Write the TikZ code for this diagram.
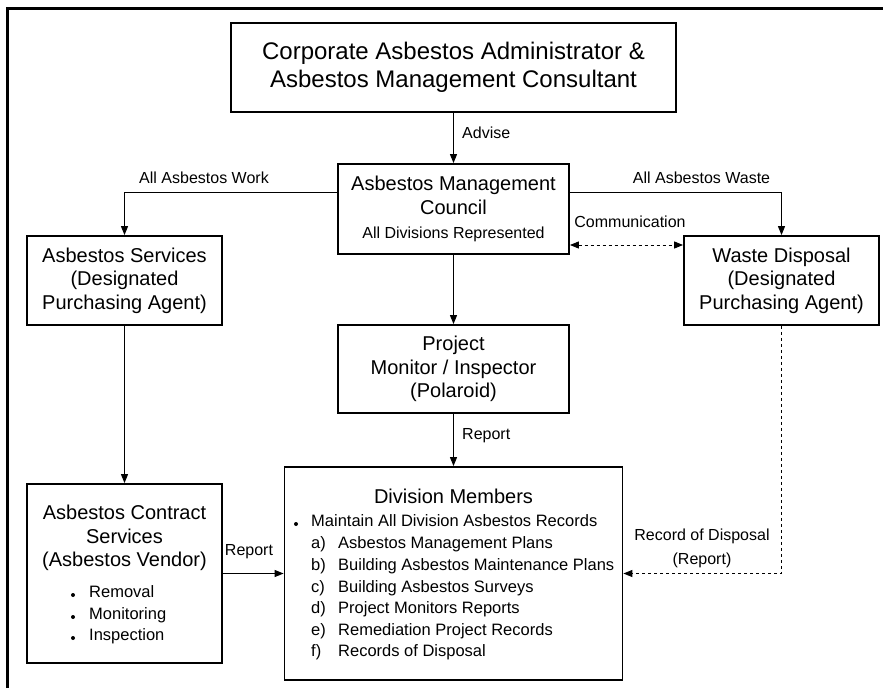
\documentclass[tikz,border=0pt]{standalone}
\usepackage{fontspec}
\setmainfont{Liberation Sans}
\usetikzlibrary{arrows.meta}

\tikzset{
  box/.style={draw, line width=1.8pt, align=center, inner sep=0pt,
    font=\fontsize{20}{23.5}\selectfont},
  lbl/.style={inner sep=0pt, font=\fontsize{16}{24}\selectfont},
  item/.style={inner sep=0pt, anchor=mid west, font=\fontsize{16.5}{20}\selectfont},
  arr/.style={line width=1pt, -{Triangle[length=9pt,width=7pt]}},
  dashline/.style={line width=1pt, dash pattern=on 3pt off 3pt}
}

\begin{document}
\begin{tikzpicture}[x=1pt,y=-1pt]
	% page and outer frame (open on the right and at the bottom)
	\fill[white] (0,0) rectangle (883,688);
	\useasboundingbox (0,0) rectangle (883,688);
	\draw[line width=3pt] (7,688) -- (7,8) -- (883,8);

	% top box: administrator and consultant
	\node[box, minimum width=445pt, minimum height=89pt, font=\fontsize{24}{28}\selectfont]
		(admin) at (453.5,67.5) {Corporate Asbestos Administrator \&\\Asbestos Management Consultant};
	% council in the middle
	\node[box, minimum width=231pt, minimum height=90pt, font=\fontsize{20}{24}\selectfont]
		(council) at (453.5,209) {Asbestos Management\\Council\\{\fontsize{16}{24}\selectfont All Divisions Represented}};
	% left and right boxes
	\node[box, minimum width=195pt, minimum height=89pt] (services) at (124.5,280.5)
		{Asbestos Services\\(Designated\\Purchasing Agent)};
	\node[box, minimum width=195pt, minimum height=89pt] (waste) at (781.5,280.5)
		{Waste Disposal\\(Designated\\Purchasing Agent)};
	% project monitor
	\node[box, minimum width=231pt, minimum height=88pt] (project) at (453.5,369)
		{Project\\Monitor / Inspector\\(Polaroid)};

	% contract services box with its list
	\node[box, minimum width=195pt, minimum height=179pt] (contract) at (124.5,573.5) {};
	\node[box, draw=none] (contracttitle) at (124.5,538) {Asbestos Contract\\Services\\(Asbestos Vendor)};
	\fill (73,595) circle (2pt);
	\node[item] (removal) at (89,595) {Removal};
	\fill (73,617) circle (2pt);
	\node[item] (monitoring) at (89,617) {Monitoring};
	\fill (73,638) circle (2pt);
	\node[item] (inspection) at (89,638) {Inspection};

	% division members box with its list
	\node[box, minimum width=338pt, minimum height=213pt] (division) at (453.5,573.5) {};
	\node[box, draw=none] (divtitle) at (453.5,496) {Division Members};
	\fill (296,524) circle (2pt);
	\node[item] (records) at (311,524) {Maintain All Division Asbestos Records};
	\node[item] (ra) at (311,546) {a)};   \node[item] (plansa) at (338,546) {Asbestos Management Plans};
	\node[item] (rb) at (311,568) {b)};   \node[item] (plansb) at (338,568) {Building Asbestos Maintenance Plans};
	\node[item] (rc) at (311,589.5) {c)}; \node[item] (plansc) at (338,589.5) {Building Asbestos Surveys};
	\node[item] (rd) at (311,611) {d)};   \node[item] (plansd) at (338,611) {Project Monitors Reports};
	\node[item] (re) at (311,633) {e)};   \node[item] (planse) at (338,633) {Remediation Project Records};
	\node[item] (rf) at (311,654) {f)};   \node[item] (plansf) at (338,654) {Records of Disposal};

	% connectors
	\draw[arr] (admin) -- (council);
	\coordinate (workL) at ([yshift=17pt]council.west);
	\draw[arr] (workL) -| (services);
	\coordinate (wasteL) at ([yshift=17pt]council.east);
	\draw[arr] (wasteL) -| (waste);
	\coordinate (commL) at ([yshift=-36pt]council.east);
	\draw[dashline, {Triangle[length=9pt,width=7pt]}-{Triangle[length=9pt,width=7pt]}] (commL) -- (commL -| waste.west);
	\draw[arr] (council) -- (project);
	\draw[arr] (project) -- (division);
	\draw[arr] (services) -- (contract);
	\draw[arr] (contract) -- (division);
	\draw[dashline, -{Triangle[length=9pt,width=7pt]}] (waste) |- (division);

	% connector labels
	\node[lbl, anchor=west] (advise) at (462,133) {Advise};
	\node[lbl] (work) at (204,178) {All Asbestos Work};
	\node[lbl] (wastelbl) at (701.5,178) {All Asbestos Waste};
	\node[lbl] (comm) at (630,222) {Communication};
	\node[lbl, anchor=west] (report1) at (462,436) {Report};
	\node[lbl] (report2) at (249,552) {Report};
	\node[lbl, align=center] (disposal) at (702,548) {Record of Disposal\\(Report)};
\end{tikzpicture}
\end{document}
